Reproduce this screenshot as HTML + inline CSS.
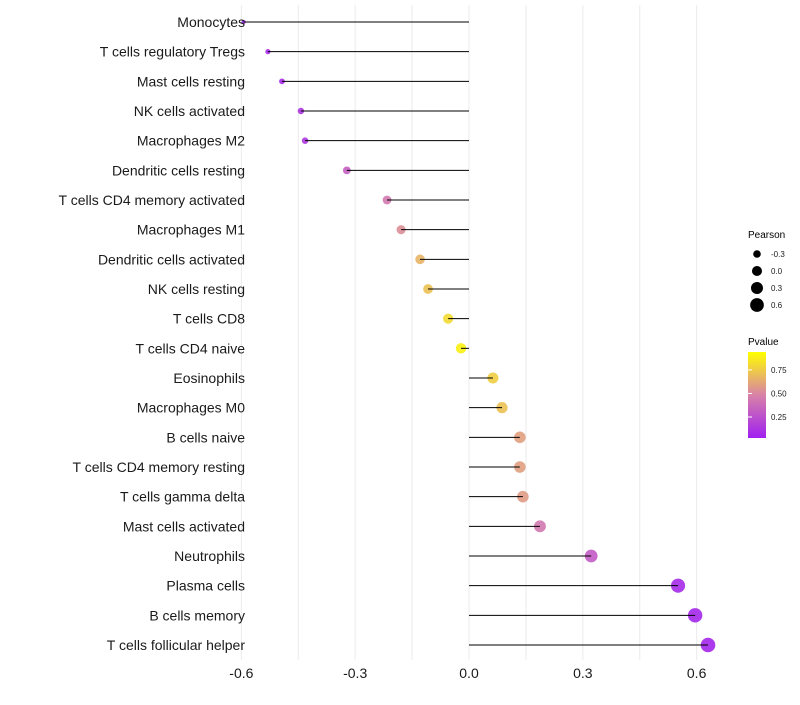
<!DOCTYPE html>
<html><head><meta charset="utf-8"><style>
body{margin:0;background:#fff;}
svg{font-family:"Liberation Sans",sans-serif;}
</style></head><body>
<svg id="chart" width="800" height="700">
<g id="grid"></g><g id="marks"></g><g id="ylabels"></g><g id="xlabels"></g>
<g id="legend">
<text x="748" y="238" font-size="10" fill="#000">Pearson</text>
<g id="sizeleg"></g>
<text x="748" y="345" font-size="10" fill="#000">Pvalue</text>
<defs><linearGradient id="pg" x1="0" y1="1" x2="0" y2="0">
<stop offset="0" stop-color="#A020F0"/><stop offset="0.5" stop-color="#D882A8"/><stop offset="1" stop-color="#FFFF00"/></linearGradient></defs>
<rect x="748" y="352" width="18" height="86" fill="url(#pg)"/>
<g id="colorleg"></g>
</g>
</svg>
<script>
const categories=["Monocytes","T cells regulatory  Tregs","Mast cells resting","NK cells activated","Macrophages M2","Dendritic cells resting","T cells CD4 memory activated","Macrophages M1","Dendritic cells activated","NK cells resting","T cells CD8","T cells CD4 naive","Eosinophils","Macrophages M0","B cells naive","T cells CD4 memory resting","T cells gamma delta","Mast cells activated","Neutrophils","Plasma cells","B cells memory","T cells follicular helper"];
const pearson=[-0.594,-0.53,-0.493,-0.443,-0.432,-0.322,-0.216,-0.179,-0.129,-0.108,-0.055,-0.021,0.063,0.087,0.134,0.134,0.142,0.187,0.322,0.551,0.596,0.63];
const pvalue=[0.03,0.05,0.06,0.1,0.12,0.32,0.45,0.55,0.7,0.75,0.85,0.94,0.8,0.75,0.62,0.62,0.6,0.45,0.3,0.05,0.04,0.03];
const xTicks=[-0.6,-0.3,0.0,0.3,0.6];
const xTickLabels=["-0.6","-0.3","0.0","0.3","0.6"];
const sizeBreaks=[-0.3,0.0,0.3,0.6];
const colorBreaks=[0.25,0.5,0.75];

const NS="http://www.w3.org/2000/svg";
const x=v=>469+v*379.4;
const y=i=>22+i*29.667;
const r=v=>Math.sqrt(40*Math.max(0,v+0.6)+4);
function lerp(a,b,t){return a.map((c,k)=>Math.round(c+(b[k]-c)*t));}
function col(p){const A=[160,32,240],M=[216,130,168],B=[255,255,0];
 const c=p<0.5?lerp(A,M,p/0.5):lerp(M,B,(p-0.5)/0.5);return `rgb(${c.join(',')})`;}
function mk(tag,attrs,parent){const e=document.createElementNS(NS,tag);for(const k in attrs)e.setAttribute(k,attrs[k]);document.getElementById(parent).appendChild(e);return e;}
for(let v=-0.6;v<=0.601;v+=0.15){
 const g=mk('line',{x1:x(v),x2:x(v),y1:5,y2:660,stroke:'#ebebeb','stroke-width':1},'grid');
 
 
}
categories.forEach((c,i)=>{
 const t=mk('text',{x:245,y:y(i)+5,'font-size':14,'text-anchor':'end',fill:'#1a1a1a'},'ylabels');
 t.textContent=c;
 
 
 const p=mk('circle',{cx:x(pearson[i]),cy:y(i),r:r(pearson[i]),fill:col(pvalue[i]),'fill-opacity':0.9},'marks');
 
 
 const l=mk('line',{x1:x(0),x2:x(pearson[i]),y1:y(i),y2:y(i),stroke:'#000','stroke-width':1},'marks');
 
 
});
xTicks.forEach((v,i)=>{
 const t=mk('text',{x:x(v),y:678,'font-size':14,'text-anchor':'middle',fill:'#1a1a1a'},'xlabels');
 t.textContent=xTickLabels[i];
 
 
});
sizeBreaks.forEach((v,i)=>{
 const cy=254+i*17;
 const c=mk('circle',{cx:757,cy:cy,r:r(v)*0.95,fill:'#000'},'sizeleg');
 
 
 const t=mk('text',{x:771,y:cy+3,'font-size':8,fill:'#1a1a1a'},'sizeleg');
 t.textContent=v.toFixed(1);
 
 
});
colorBreaks.forEach(v=>{
 const cy=438-(v-0.027)/0.913*86;
 const t=mk('text',{x:771,y:cy+3,'font-size':8,fill:'#1a1a1a'},'colorleg');
 t.textContent=v.toFixed(2);
 
 
 const tk=mk('line',{x1:748,x2:752,y1:cy,y2:cy,stroke:'#fff','stroke-width':1},'colorleg');
 
 
});
</script>
</body></html>
